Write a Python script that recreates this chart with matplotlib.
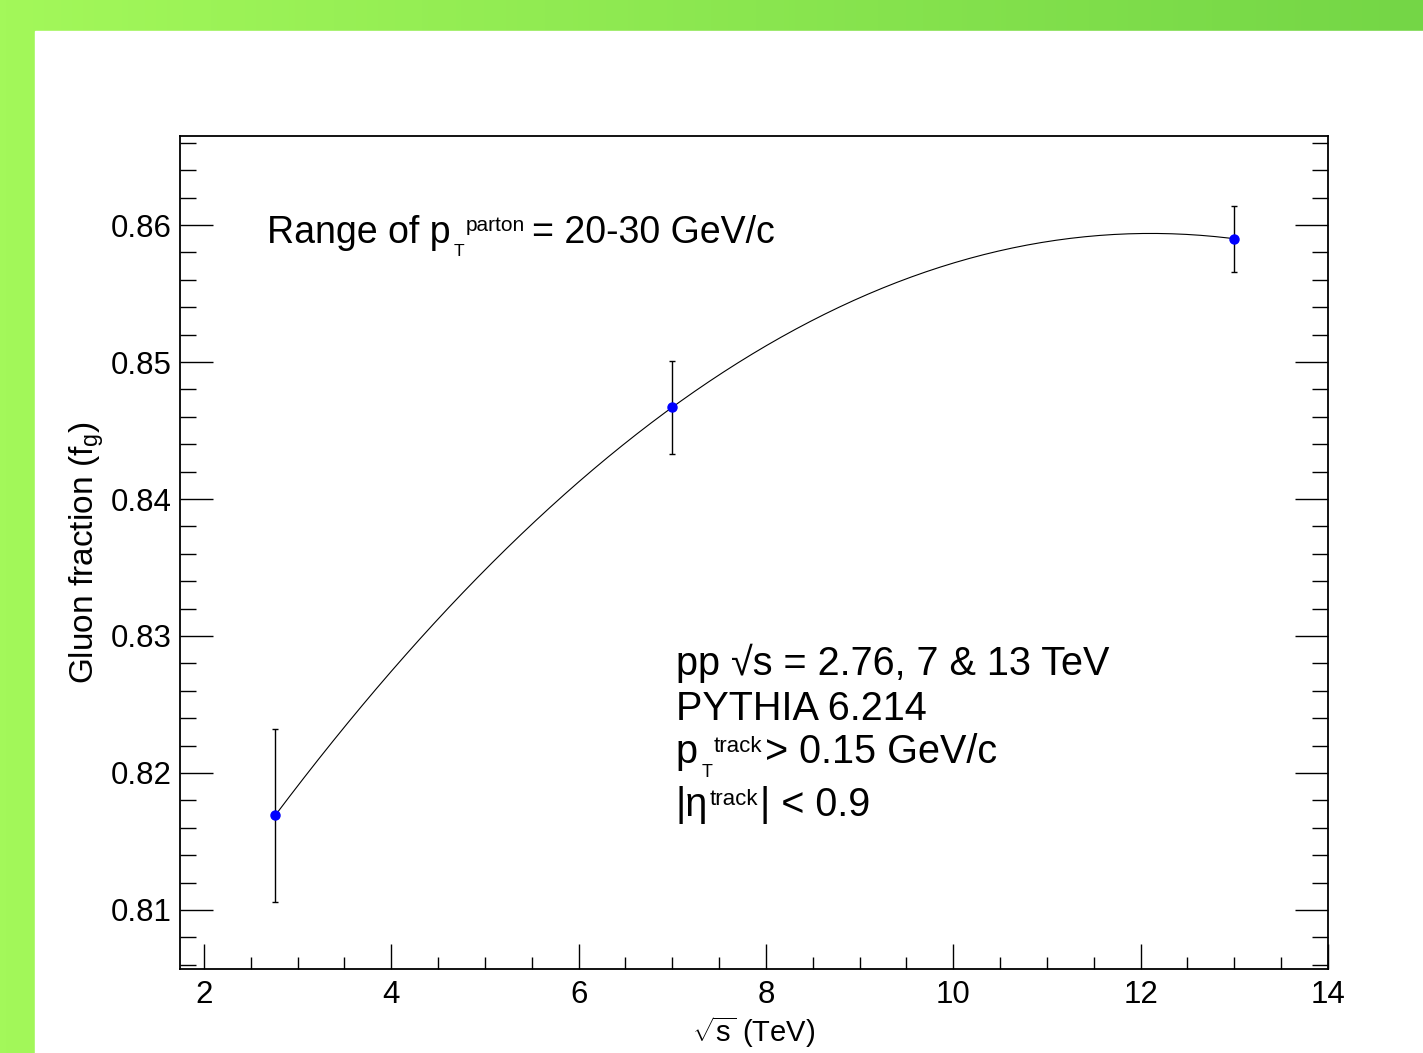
"""Gluon fraction vs sqrt(s) with pol2 fit, ROOT-style frame."""
import numpy as np
import matplotlib
matplotlib.use("Agg")
import matplotlib.pyplot as plt
from matplotlib.patches import Rectangle
from matplotlib.ticker import MultipleLocator

plt.rcParams['font.family'] = ['Liberation Sans', 'DejaVu Sans']
plt.rcParams['mathtext.fontset'] = 'custom'
plt.rcParams['mathtext.rm'] = 'Liberation Sans'
plt.rcParams['mathtext.it'] = 'Liberation Sans:italic'
plt.rcParams['mathtext.bf'] = 'Liberation Sans:bold'

# data
energy = [2.76, 7.0, 13.0]          # sqrt(s) in TeV
gluon_frac = [0.8169, 0.8467, 0.8590]
gluon_err = [0.0063, 0.0034, 0.0024]

xticks = [2, 4, 6, 8, 10, 12, 14]
yticks = [0.81, 0.82, 0.83, 0.84, 0.85, 0.86]
ytick_labels = ['0.81', '0.82', '0.83', '0.84', '0.85', '0.86']


def chain(ax, x, y, parts):
    """ROOT-like latex: pieces laid one after another, (text, size, dx, dy)."""
    txt, fs, _, _ = parts[0]
    prev = ax.text(x, y, txt, transform=ax.transAxes, fontsize=fs,
                   va='baseline', ha='left')
    for txt, fs, dx, dy in parts[1:]:
        prev = ax.annotate(txt, xy=(1, y), xycoords=(prev, 'axes fraction'),
                           xytext=(dx, dy), textcoords='offset points',
                           fontsize=fs, va='baseline', ha='left')
    return prev


W, H = 1423, 1053
fig = plt.figure(figsize=(W / 100, H / 100), dpi=100)

# green slide background + white canvas
bg = fig.add_axes([0, 0, 1, 1], zorder=-10)
left_col = np.array([163, 248, 90]) / 255
right_col = np.array([116, 214, 70]) / 255
t = np.linspace(0, 1, 256)[None, :, None]
grad = left_col * (1 - t) + right_col * t
bg.imshow(grad, aspect='auto', extent=[0, 1, 0, 1])
bg.add_patch(Rectangle((35 / W, 0), 1, 1 - 31 / H, color='white'))
bg.set_xlim(0, 1)
bg.set_ylim(0, 1)
bg.axis('off')

ax = fig.add_axes([180 / W, 1 - 969 / H, 1148 / W, 833 / H])
ax.set_facecolor('none')

# pol2 fit through the points, like the original
coef = np.polyfit(energy, gluon_frac, 2, w=1 / np.array(gluon_err))
xf = np.linspace(energy[0], energy[-1], 200)
ax.plot(xf, np.polyval(coef, xf), color='black', lw=0.8, zorder=2)

ax.errorbar(energy, gluon_frac, yerr=gluon_err, fmt='o', color='blue',
            ecolor='black', elinewidth=1.0, capsize=2.5, capthick=1.0,
            markersize=6.5, zorder=3)

ax.set_xlim(1.744, 14)
ax.set_ylim(0.80569, 0.8665)
ax.set_xticks(xticks)
ax.set_xticklabels([str(v) for v in xticks])
ax.xaxis.set_minor_locator(MultipleLocator(0.5))
ax.set_yticks(yticks)
ax.set_yticklabels(ytick_labels)
ax.yaxis.set_minor_locator(MultipleLocator(0.002))

ax.tick_params(axis='x', which='major', direction='in', length=18, width=1.0,
               top=False, labelsize=22.5, pad=8)
ax.tick_params(axis='x', which='minor', direction='in', length=8.6, width=1.0,
               top=False)
ax.tick_params(axis='y', which='major', direction='in', length=23.8, width=1.0,
               right=True, labelsize=22.5, pad=6)
ax.tick_params(axis='y', which='minor', direction='in', length=11.5, width=1.0,
               right=True)
for s in ax.spines.values():
    s.set_linewidth(1.3)

ax.set_xlabel(r'$\sqrt{\mathrm{s}}$ (TeV)', fontsize=21, labelpad=3)
ax.set_ylabel(r'Gluon fraction ($\mathrm{f}_\mathrm{g}$)', fontsize=24,
              labelpad=3)

# header
chain(ax, 0.0758, 0.8715, [
    ('Range of p', 27, 0, 0),
    ('T', 12.5, 2.5, -9.5),
    ('parton', 15, 1, 8.6),
    ('= 20-30 GeV/c', 27, 5, 0),
])

# info block
ax.text(0.432, 0.3529, 'pp \u221as = 2.76, 7 & 13 TeV', transform=ax.transAxes,
        fontsize=28.5, va='baseline', ha='left')
ax.text(0.432, 0.2995, 'PYTHIA 6.214', transform=ax.transAxes,
        fontsize=28.5, va='baseline', ha='left')
chain(ax, 0.432, 0.2467, [
    ('p', 28.5, 0, 0),
    ('T', 13, 2.5, -10),
    ('track', 16, 1, 8),
    ('> 0.15 GeV/c', 28.5, 2, 0),
])
chain(ax, 0.432, 0.1831, [
    ('|\u03b7', 28.5, 0, 0),
    ('track', 16, 1, 8),
    ('| < 0.9', 28.5, 1, 0),
])

fig.savefig('out.png', dpi=100)
